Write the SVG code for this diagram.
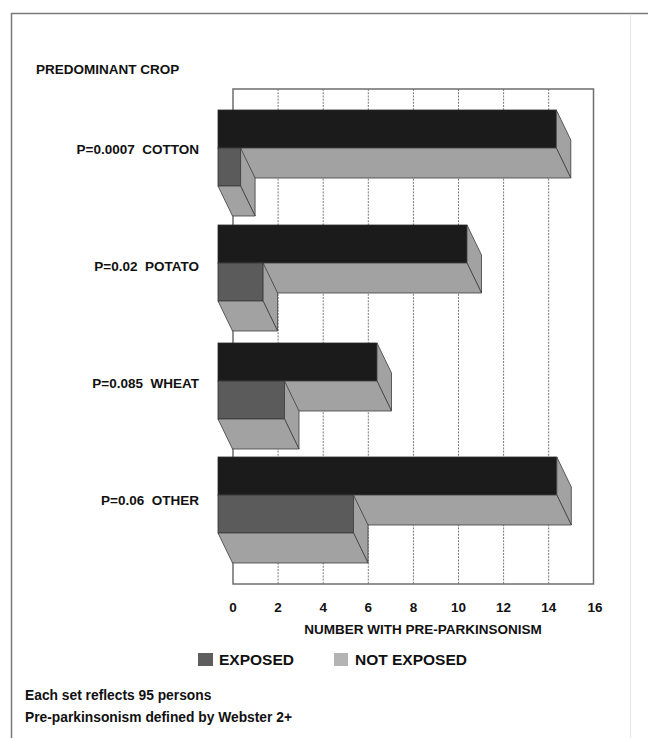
<svg xmlns="http://www.w3.org/2000/svg" width="648" height="738" viewBox="0 0 648 738">
<style>
text{font-family:"Liberation Sans",Arial,sans-serif;font-weight:bold;fill:#111;white-space:pre}
.lbl{font-size:13.5px}
.tick{font-size:13.5px;text-anchor:middle}
.grid{stroke:#7a7a7a;stroke-width:1;stroke-dasharray:2 1.2}
.box{fill:none;stroke:#6e6e6e;stroke-width:1.5}
.front{fill:#1b1b1b;stroke:#2a2a2a;stroke-width:0.8}
.exp{fill:#5b5b5b;stroke:#333;stroke-width:0.8}
.face{fill:#a2a2a2;stroke:#3c3c3c;stroke-width:0.8;stroke-linejoin:round}
</style>
<rect width="648" height="738" fill="#fff"/>
<g id="frame">
<path d="M11.5 738 V13.5 H648" fill="none" stroke="#7a7a7a" stroke-width="1.5"/>
<line x1="630.5" y1="14" x2="630.5" y2="738" stroke="#e6e6e6" stroke-width="1"/>
</g>
<text x="36" y="74" class="lbl">PREDOMINANT CROP</text>
<g id="grid">
<line class="grid" x1="278.1" y1="89" x2="278.1" y2="584"/>
<line class="grid" x1="323.2" y1="89" x2="323.2" y2="584"/>
<line class="grid" x1="368.3" y1="89" x2="368.3" y2="584"/>
<line class="grid" x1="413.4" y1="89" x2="413.4" y2="584"/>
<line class="grid" x1="458.5" y1="89" x2="458.5" y2="584"/>
<line class="grid" x1="503.6" y1="89" x2="503.6" y2="584"/>
<line class="grid" x1="548.7" y1="89" x2="548.7" y2="584"/>
<rect class="box" x="233" y="89" width="360.5" height="495"/>
</g>
<g id="cotton">
<text x="199" y="154" class="lbl" text-anchor="end" xml:space="preserve">P=0.0007  COTTON</text>
<rect class="front" x="218" y="110" width="338.3" height="38"/>
<polygon class="face" points="556.3,110 570.8,140 570.8,178 556.3,148"/>
<polygon class="face" points="218,148 556.3,148 570.8,178 232.5,178"/>
<rect class="exp" x="218" y="148" width="22.6" height="38"/>
<polygon class="face" points="240.6,148 255.1,178 255.1,216 240.6,186"/>
<polygon class="face" points="218,186 240.6,186 255.1,216 232.5,216"/>
</g>
<g id="potato">
<text x="199" y="271" class="lbl" text-anchor="end" xml:space="preserve">P=0.02  POTATO</text>
<rect class="front" x="218" y="225" width="249" height="38"/>
<polygon class="face" points="467,225 481.5,255 481.5,293 467,263"/>
<polygon class="face" points="218,263 467,263 481.5,293 232.5,293"/>
<rect class="exp" x="218" y="263" width="45.1" height="38"/>
<polygon class="face" points="263.1,263 277.6,293 277.6,331 263.1,301"/>
<polygon class="face" points="218,301 263.1,301 277.6,331 232.5,331"/>
</g>
<g id="wheat">
<text x="199" y="388" class="lbl" text-anchor="end" xml:space="preserve">P=0.085  WHEAT</text>
<rect class="front" x="218" y="343" width="159" height="38"/>
<polygon class="face" points="377,343 391.5,373 391.5,411 377,381"/>
<polygon class="face" points="218,381 377,381 391.5,411 232.5,411"/>
<rect class="exp" x="218" y="381" width="66.5" height="38"/>
<polygon class="face" points="284.5,381 299,411 299,449 284.5,419"/>
<polygon class="face" points="218,419 284.5,419 299,449 232.5,449"/>
</g>
<g id="other">
<text x="199" y="505" class="lbl" text-anchor="end" xml:space="preserve">P=0.06  OTHER</text>
<rect class="front" x="218" y="457" width="338.8" height="38"/>
<polygon class="face" points="556.8,457 571.3,487 571.3,525 556.8,495"/>
<polygon class="face" points="218,495 556.8,495 571.3,525 232.5,525"/>
<rect class="exp" x="218" y="495" width="135.5" height="38"/>
<polygon class="face" points="353.5,495 368,525 368,563 353.5,533"/>
<polygon class="face" points="218,533 353.5,533 368,563 232.5,563"/>
</g>
<g id="axis">
<text class="tick" x="233" y="612">0</text>
<text class="tick" x="278.1" y="612">2</text>
<text class="tick" x="323.2" y="612">4</text>
<text class="tick" x="368.3" y="612">6</text>
<text class="tick" x="413.4" y="612">8</text>
<text class="tick" x="458.5" y="612">10</text>
<text class="tick" x="503.6" y="612">12</text>
<text class="tick" x="548.7" y="612">14</text>
<text class="tick" x="595" y="612">16</text>
<text x="423" y="634" class="lbl" text-anchor="middle">NUMBER WITH PRE-PARKINSONISM</text>
</g>
<g id="legend">
<rect x="198" y="653" width="15" height="13" fill="#5e5e5e"/>
<text x="219" y="665" font-size="15.5">EXPOSED</text>
<rect x="334" y="653" width="14" height="13" fill="#b4b4b4"/>
<text x="355" y="665" font-size="15.5">NOT EXPOSED</text>
</g>
<g id="notes">
<text x="25" y="700" font-size="13.8">Each set reflects 95 persons</text>
<text x="25" y="722" font-size="13.8">Pre-parkinsonism defined by Webster 2+</text>
</g>
</svg>
